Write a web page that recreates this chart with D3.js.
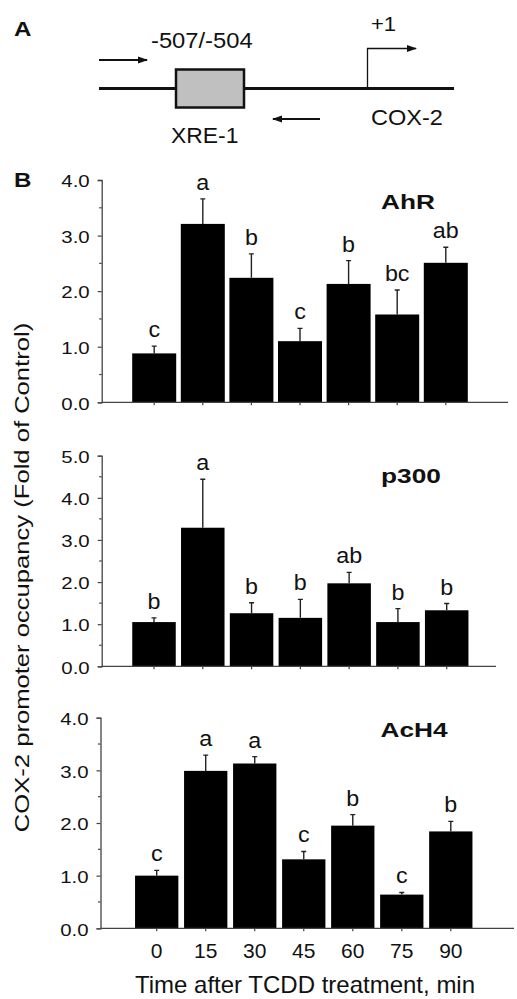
<!DOCTYPE html>
<html>
<head>
<meta charset="utf-8">
<script src="https://cdn.jsdelivr.net/npm/d3@7"></script>
<style>
  html, body { margin: 0; padding: 0; background: #fff; }
  svg { display: block; font-family: "Liberation Sans", Arial, sans-serif; }
</style>
</head>
<body>
<div id="chart"></div>
<script>
// time points (min after TCDD)
const times = [0, 15, 30, 45, 60, 75, 90];

// AhR occupancy, fold of control
const ahrMean = [0.88, 3.21, 2.24, 1.10, 2.13, 1.58, 2.51];
const ahrErr = [0.13, 0.45, 0.43, 0.23, 0.42, 0.44, 0.28];
const ahrLetters = ["c", "a", "b", "c", "b", "bc", "ab"];

// p300
const p300Mean = [1.05, 3.29, 1.26, 1.15, 1.97, 1.05, 1.33];
const p300Err = [0.10, 1.15, 0.25, 0.44, 0.26, 0.32, 0.16];
const p300Letters = ["b", "a", "b", "b", "ab", "b", "b"];

// acetylated H4
const ach4Mean = [1.00, 2.99, 3.13, 1.31, 1.95, 0.64, 1.84];
const ach4Err = [0.10, 0.30, 0.13, 0.15, 0.21, 0.04, 0.19];
const ach4Letters = ["c", "a", "a", "c", "b", "c", "b"];

const yTicksA = [0, 1, 2, 3, 4];
const yTicksB = [0, 1, 2, 3, 4, 5];

const W = 517, H = 999;
const axisColor = "#444";

const svg = d3.select("#chart").append("svg")
  .attr("width", W)
  .attr("height", H);

svg.append("rect").attr("width", W).attr("height", H).attr("fill", "#fff");

// text helper, the figure's lettering is a bit wide so stretch it horizontally
function stext(parent, x, y, str, o) {
  o = Object.assign({ size: 20, sx: 1, anchor: "start", weight: "normal", rotate: 0 }, o);
  return parent.append("text")
    .attr("transform", `translate(${x},${y})` + (o.rotate ? ` rotate(${o.rotate})` : "") + ` scale(${o.sx},1)`)
    .attr("text-anchor", o.anchor)
    .attr("font-size", o.size)
    .attr("font-weight", o.weight)
    .attr("fill", "#111")
    .text(str);
}

// ---------- panel A : promoter diagram ----------
const defs = svg.append("defs");
defs.append("marker")
  .attr("id", "head")
  .attr("viewBox", "0 0 10 10")
  .attr("refX", 9).attr("refY", 5)
  .attr("markerWidth", 10).attr("markerHeight", 10)
  .attr("markerUnits", "userSpaceOnUse")
  .attr("orient", "auto")
  .append("path")
  .attr("d", "M0,1.5 L10,5 L0,8.5 Z")
  .attr("fill", "#111");

const pa = svg.append("g");
stext(pa, 14, 36, "A", { size: 21, weight: "bold", sx: 1.15 });

pa.append("line")
  .attr("x1", 99).attr("x2", 454).attr("y1", 88.5).attr("y2", 88.5)
  .attr("stroke", "#111").attr("stroke-width", 3);

pa.append("rect")
  .attr("x", 176).attr("y", 69.5).attr("width", 68).attr("height", 38)
  .attr("fill", "#c0c0c0").attr("stroke", "#111").attr("stroke-width", 2.5);

pa.append("line")
  .attr("x1", 99).attr("x2", 147).attr("y1", 60).attr("y2", 60)
  .attr("stroke", "#111").attr("stroke-width", 2)
  .attr("marker-end", "url(#head)");

pa.append("line")
  .attr("x1", 320).attr("x2", 273).attr("y1", 119).attr("y2", 119)
  .attr("stroke", "#111").attr("stroke-width", 2)
  .attr("marker-end", "url(#head)");

pa.append("path")
  .attr("d", "M367.5,88.5 V48.5 H416")
  .attr("fill", "none").attr("stroke", "#111").attr("stroke-width", 1.3)
  .attr("marker-end", "url(#head)");

stext(pa, 151, 48, "-507/-504", { size: 22, sx: 1.08 });
stext(pa, 371, 31, "+1", { size: 21, sx: 1.05 });
stext(pa, 171, 143, "XRE-1", { size: 22, sx: 1.04 });
stext(pa, 371, 125, "COX-2", { size: 22, sx: 1.07 });

// ---------- panel B : three bar charts ----------
stext(svg, 14, 187, "B", { size: 21, weight: "bold", sx: 1.15 });

const panels = [
  { name: "AhR", mean: ahrMean, err: ahrErr, letters: ahrLetters, ticks: yTicksA,
    y0: 402.3, y1: 180, c0: 154.2, c6: 445.8, bw: 44, axL: 101.7, axR: 508, title: [381, 209] },
  { name: "p300", mean: p300Mean, err: p300Err, letters: p300Letters, ticks: yTicksB,
    y0: 666.3, y1: 455.7, c0: 154, c6: 446.7, bw: 43.5, axL: 101.7, axR: 496, title: [381, 483] },
  { name: "AcH4", mean: ach4Mean, err: ach4Err, letters: ach4Letters, ticks: yTicksA,
    y0: 928.3, y1: 717.7, c0: 156.7, c6: 450.8, bw: 43.3, axL: 100.5, axR: 514, title: [380.5, 737], xLabels: true }
];

panels.forEach(p => {
  const g = svg.append("g");
  const n = times.length;
  const step = (p.c6 - p.c0) / (n - 1);
  const pad = 1 - p.bw / step;

  const x = d3.scaleBand()
    .domain(times)
    .range([p.c0 - step / 2, p.c6 + step / 2])
    .paddingInner(pad)
    .paddingOuter(pad / 2);

  const yMax = d3.max(p.ticks);
  const y = d3.scaleLinear().domain([0, yMax]).range([p.y0, p.y1]);

  const data = times.map((t, i) => ({ t, m: p.mean[i], e: p.err[i], l: p.letters[i] }));

  // bars
  g.selectAll(".bar")
      .data(data)
    .enter().append("rect")
      .attr("class", "bar")
      .attr("x", d => x(d.t))
      .attr("width", x.bandwidth())
      .attr("y", d => y(d.m))
      .attr("height", d => y(0) - y(d.m))
      .attr("fill", "#000");

  // error bars (upper only)
  const cx = d => x(d.t) + x.bandwidth() / 2;
  g.selectAll(".err")
      .data(data)
    .enter().append("path")
      .attr("class", "err")
      .attr("d", d => `M${cx(d)},${y(d.m)} V${y(d.m + d.e)} M${cx(d) - 2.5},${y(d.m + d.e)} H${cx(d) + 2.5}`)
      .attr("fill", "none")
      .attr("stroke", "#222")
      .attr("stroke-width", 1.4);

  // significance letters
  data.forEach(d => {
    stext(g, cx(d), y(d.m + d.e) - 9, d.l, { size: 22, sx: 1.06, anchor: "middle" });
  });

  // y axis
  const yAxis = d3.axisLeft(y)
    .tickValues(p.ticks)
    .tickSize(4)
    .tickFormat(d3.format(".1f"));

  const ya = g.append("g")
    .attr("transform", `translate(${p.axL},0)`)
    .call(yAxis);
  ya.select(".domain").attr("stroke", axisColor).attr("stroke-width", 1.3);
  ya.selectAll(".tick line").attr("stroke", axisColor).attr("stroke-width", 1.2);
  ya.selectAll(".tick text")
    .attr("x", null)
    .attr("dy", "0.4em")
    .attr("transform", "translate(-12,0) scale(1.2,1)")
    .attr("font-family", "Liberation Sans, Arial, sans-serif")
    .attr("font-size", 17)
    .attr("fill", "#111");

  // minor ticks at half units
  g.selectAll(".minor")
      .data(d3.range(0.5, yMax, 1))
    .enter().append("line")
      .attr("class", "minor")
      .attr("x1", p.axL - 2.5).attr("x2", p.axL)
      .attr("y1", d => y(d)).attr("y2", d => y(d))
      .attr("stroke", axisColor).attr("stroke-width", 1.2);

  // x axis
  g.append("line")
    .attr("x1", p.axL).attr("x2", p.axR)
    .attr("y1", y(0)).attr("y2", y(0))
    .attr("stroke", axisColor).attr("stroke-width", 1.3);

  const xAxis = d3.axisBottom(x).tickSize(3).tickSizeOuter(0);
  const xa = g.append("g")
    .attr("transform", `translate(0,${y(0)})`)
    .call(xAxis);
  xa.select(".domain").remove();
  xa.selectAll(".tick line").attr("stroke", axisColor).attr("stroke-width", 1.2);
  if (p.xLabels) {
    xa.selectAll(".tick text")
      .attr("y", 30)
      .attr("dy", null)
      .attr("font-family", "Liberation Sans, Arial, sans-serif")
      .attr("font-size", 21)
      .attr("fill", "#111");
  } else {
    xa.selectAll(".tick text").remove();
  }

  // panel title
  stext(g, p.title[0], p.title[1], p.name, { size: 21, weight: "bold", sx: 1.25 });
});

// axis titles
stext(svg, 305, 993, "Time after TCDD treatment, min", { size: 24, anchor: "middle" });
stext(svg, 28.5, 577.5, "COX-2 promoter occupancy (Fold of Control)",
  { size: 21, anchor: "middle", rotate: -90, sx: 1.22 });
</script>
</body>
</html>
